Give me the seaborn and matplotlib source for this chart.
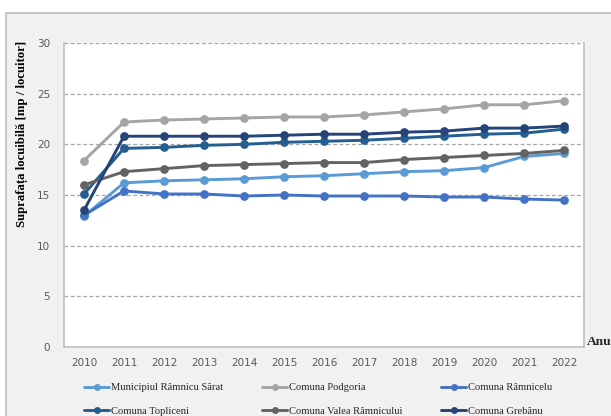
import matplotlib
matplotlib.use("Agg")
import matplotlib.pyplot as plt
from matplotlib.patches import Rectangle
from matplotlib.lines import Line2D
import seaborn as sns
import pandas as pd

years = [2010, 2011, 2012, 2013, 2014, 2015, 2016, 2017, 2018, 2019, 2020, 2021, 2022]
municipiul = [12.9, 16.2, 16.4, 16.5, 16.6, 16.8, 16.9, 17.1, 17.3, 17.4, 17.7, 18.8, 19.1]
podgoria = [18.4, 22.2, 22.4, 22.5, 22.6, 22.7, 22.7, 22.9, 23.2, 23.5, 23.9, 23.9, 24.3]
ramnicelu = [13.0, 15.4, 15.1, 15.1, 14.9, 15.0, 14.9, 14.9, 14.9, 14.8, 14.8, 14.6, 14.5]
topliceni = [15.1, 19.6, 19.7, 19.9, 20.0, 20.2, 20.3, 20.4, 20.6, 20.8, 21.0, 21.1, 21.5]
valea = [16.0, 17.3, 17.6, 17.9, 18.0, 18.1, 18.2, 18.2, 18.5, 18.7, 18.9, 19.1, 19.4]
grebanu = [13.5, 20.8, 20.8, 20.8, 20.8, 20.9, 21.0, 21.0, 21.2, 21.3, 21.6, 21.6, 21.8]

series_names = ["Municipiul Râmnicu Sărat", "Comuna Podgoria", "Comuna Râmnicelu",
                "Comuna Topliceni", "Comuna Valea Râmnicului", "Comuna Grebănu"]
series_values = [municipiul, podgoria, ramnicelu, topliceni, valea, grebanu]
colors = ["#5B9BD5", "#A5A5A5", "#4472C4", "#255E91", "#636363", "#264478"]

rows = []
for name, vals in zip(series_names, series_values):
    for i, (y, v) in enumerate(zip(years, vals)):
        rows.append({"idx": i, "An": y, "Serie": name, "Valoare": v})
df = pd.DataFrame(rows)

sns.set_style("white")
W, H = 611, 416
fig = plt.figure(figsize=(W / 100, H / 100), dpi=100, facecolor="white")

# outer chart area frame
fig.patches.append(Rectangle((6 / W, -0.01), 1.0, (H - 13) / H + 0.01, transform=fig.transFigure,
                             facecolor="#F1F1F1", edgecolor="#BDBDBD", linewidth=1.2, zorder=-10))

ax = fig.add_axes([64 / W, (H - 347) / H, 520 / W, 304 / H])
ax.set_zorder(1)
ax.set_facecolor("white")

sns.lineplot(data=df, x="idx", y="Valoare", hue="Serie", hue_order=series_names,
             palette=colors, marker="o", markersize=6.3, markeredgewidth=0,
             linewidth=2.1, legend=False, ax=ax, sort=False)

ax.set_xlim(-0.5, len(years) - 0.5)
ax.set_ylim(0, 30)
ax.set_xticks(range(len(years)))
ax.set_xticklabels([str(y) for y in years])
ax.set_yticks([0, 5, 10, 15, 20, 25, 30])
ax.tick_params(axis="both", length=0, colors="#595959")
for lab in ax.get_xticklabels() + ax.get_yticklabels():
    lab.set_family("DejaVu Sans")
    lab.set_fontsize(7.5)
ax.tick_params(axis="y", pad=10)
ax.tick_params(axis="x", pad=8)

for y in [5, 10, 15, 20, 25, 30]:
    ax.axhline(y, color="#A6A6A6", linestyle=(0, (3, 2)), linewidth=0.9, zorder=0.5)

for s in ["left", "bottom", "right"]:
    ax.spines[s].set_visible(True)
    ax.spines[s].set_color("#BFBFBF")
    ax.spines[s].set_linewidth(1.2)
ax.spines["top"].set_visible(False)

ax.set_xlabel("")
ax.set_ylabel("")
fig.text(22 / W, 1 - 134 / H, "Suprafața locuibilă [mp / locuitor]", fontfamily="Liberation Serif",
         fontweight="bold", fontsize=9.2, color="black", rotation=90, ha="center", va="center")
fig.text(587 / W, 1 - 342 / H, "Anu", fontfamily="Liberation Serif", fontweight="bold",
         fontsize=9.6, ha="left", va="center")

# legend: three columns, two rows, row-major order
col_x = [84, 262, 441]
for c in range(3):
    handles = []
    labels = []
    for r in range(2):
        k = r * 3 + c
        handles.append(Line2D([], [], color=colors[k], linewidth=2.1, marker="o",
                              markersize=5, markeredgewidth=0))
        labels.append(series_names[k])
    leg = fig.legend(handles, labels, loc="upper left",
                     bbox_to_anchor=(col_x[c] / W, 1 - 383 / H),
                     frameon=False, handlelength=2.4, handletextpad=0.15,
                     labelspacing=1.35, borderaxespad=0, borderpad=0,
                     prop={"family": "Liberation Serif", "size": 7.6})

fig.savefig("out.png", dpi=100, facecolor="white")
